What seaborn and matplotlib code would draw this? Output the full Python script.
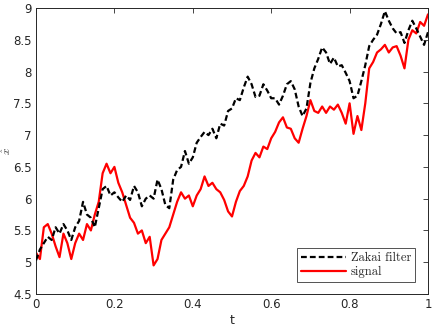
import numpy as np
import pandas as pd
import matplotlib
matplotlib.use("Agg")
import matplotlib.pyplot as plt
import seaborn as sns

t = [0.00, 0.01, 0.02, 0.03, 0.04, 0.05, 0.06, 0.07, 0.08, 0.09,
     0.10, 0.11, 0.12, 0.13, 0.14, 0.15, 0.16, 0.17, 0.18, 0.19,
     0.20, 0.21, 0.22, 0.23, 0.24, 0.25, 0.26, 0.27, 0.28, 0.29,
     0.30, 0.31, 0.32, 0.33, 0.34, 0.35, 0.36, 0.37, 0.38, 0.39,
     0.40, 0.41, 0.42, 0.43, 0.44, 0.45, 0.46, 0.47, 0.48, 0.49,
     0.50, 0.51, 0.52, 0.53, 0.54, 0.55, 0.56, 0.57, 0.58, 0.59,
     0.60, 0.61, 0.62, 0.63, 0.64, 0.65, 0.66, 0.67, 0.68, 0.69,
     0.70, 0.71, 0.72, 0.73, 0.74, 0.75, 0.76, 0.77, 0.78, 0.79,
     0.80, 0.81, 0.82, 0.83, 0.84, 0.85, 0.86, 0.87, 0.88, 0.89,
     0.90, 0.91, 0.92, 0.93, 0.94, 0.95, 0.96, 0.97, 0.98, 0.99, 1.00]

zakai = [5.03, 5.20, 5.30, 5.40, 5.35, 5.55, 5.45, 5.60, 5.50, 5.35,
         5.55, 5.65, 5.95, 5.75, 5.70, 5.55, 5.85, 6.15, 6.20, 6.05,
         6.10, 6.02, 5.95, 6.05, 5.98, 6.20, 6.10, 5.88, 6.00, 6.05,
         6.00, 6.30, 6.15, 5.90, 5.85, 6.30, 6.45, 6.50, 6.75, 6.55,
         6.65, 6.88, 6.97, 7.05, 7.00, 7.10, 6.95, 7.18, 7.15, 7.38,
         7.42, 7.58, 7.55, 7.75, 7.92, 7.80, 7.60, 7.62, 7.80, 7.70,
         7.58, 7.58, 7.48, 7.62, 7.80, 7.85, 7.72, 7.45, 7.30, 7.42,
         7.82, 8.05, 8.20, 8.38, 8.30, 8.12, 8.22, 8.08, 8.10, 7.98,
         7.85, 7.58, 7.62, 7.85, 8.10, 8.40, 8.50, 8.58, 8.75, 8.95,
         8.80, 8.68, 8.60, 8.62, 8.45, 8.65, 8.80, 8.68, 8.55, 8.42, 8.62]

signal = [5.15, 5.05, 5.55, 5.60, 5.45, 5.25, 5.08, 5.45, 5.30, 5.05,
          5.30, 5.45, 5.35, 5.60, 5.50, 5.75, 5.95, 6.40, 6.55, 6.40,
          6.50, 6.25, 6.10, 5.90, 5.70, 5.62, 5.45, 5.50, 5.30, 5.40,
          4.95, 5.05, 5.35, 5.45, 5.55, 5.75, 5.95, 6.10, 6.00, 6.05,
          5.88, 6.05, 6.15, 6.35, 6.20, 6.25, 6.15, 6.10, 5.98, 5.80,
          5.72, 5.95, 6.12, 6.20, 6.35, 6.60, 6.72, 6.65, 6.82, 6.78,
          6.95, 7.05, 7.20, 7.28, 7.12, 7.10, 6.95, 6.88, 7.10, 7.30,
          7.55, 7.38, 7.35, 7.45, 7.35, 7.45, 7.40, 7.48, 7.35, 7.18,
          7.50, 7.02, 7.30, 7.08, 7.50, 8.05, 8.15, 8.30, 8.35, 8.42,
          8.30, 8.38, 8.40, 8.25, 8.05, 8.50, 8.65, 8.60, 8.78, 8.72, 8.90]

labels = ["Zakai filter", "signal"]
xticks = [0, 0.2, 0.4, 0.6, 0.8, 1]
xticklabels = ["0", "0.2", "0.4", "0.6", "0.8", "1"]
yticks = [4.5, 5, 5.5, 6, 6.5, 7, 7.5, 8, 8.5, 9]
yticklabels = ["4.5", "5", "5.5", "6", "6.5", "7", "7.5", "8", "8.5", "9"]

sns.set_style("white")
plt.rcParams["font.family"] = ["DejaVu Sans"]
plt.rcParams["mathtext.fontset"] = "cm"

fig = plt.figure(figsize=(4.36, 3.28), dpi=100)
ax = fig.add_axes([36/436, 1-294/328, 392/436, 286/328])

df_z = pd.DataFrame({"t": t, "v": zakai})
df_s = pd.DataFrame({"t": t, "v": signal})
sns.lineplot(data=df_z, x="t", y="v", ax=ax, color="black", linewidth=1.6,
             linestyle=(0, (2.6, 1.4)), label=labels[0], zorder=3)
sns.lineplot(data=df_s, x="t", y="v", ax=ax, color="#ff0000", linewidth=1.6,
             label=labels[1], zorder=2)

ax.set_xlim(0, 1)
ax.set_ylim(4.5, 9)
ax.set_xticks(xticks)
ax.set_xticklabels(xticklabels)
ax.set_yticks(yticks)
ax.set_yticklabels(yticklabels)
ax.tick_params(direction="in", top=True, right=True, length=3.5, width=0.6,
               labelsize=8.5, colors="#262626", pad=3)
for s in ax.spines.values():
    s.set_color("#262626")
    s.set_linewidth(0.7)
    s.set_visible(True)

ax.set_xlabel("t", fontsize=9, color="#262626", labelpad=2)
ax.set_ylabel(r"$\hat{x}$", fontsize=8, color="#262626")
ax.yaxis.set_label_coords(-0.058, 0.5)

leg = ax.legend(loc="lower right", bbox_to_anchor=(0.967, 0.042),
                borderaxespad=0, frameon=True, fancybox=False,
                prop={"family": "cmr10", "size": 9}, handlelength=3.6,
                handletextpad=0.4, borderpad=0.3, labelspacing=0.15)
leg.get_frame().set_edgecolor("#262626")
leg.get_frame().set_linewidth(0.7)

fig.savefig("out.png", dpi=100)
